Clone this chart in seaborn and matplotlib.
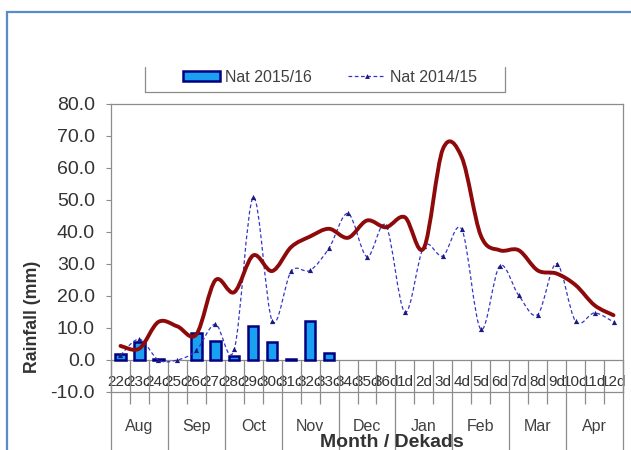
import numpy as np
import pandas as pd
import seaborn as sns
import matplotlib.pyplot as plt
from matplotlib.path import Path
from matplotlib.patches import PathPatch, Patch, Rectangle
from matplotlib.lines import Line2D

# datos
dekads = ["22d", "23d", "24d", "25d", "26d", "27d", "28d", "29d", "30d",
          "31d", "32d", "33d", "34d", "35d", "36d", "1d", "2d", "3d",
          "4d", "5d", "6d", "7d", "8d", "9d", "10d", "11d", "12d"]
months = ["Aug", "Sep", "Oct", "Nov", "Dec", "Jan", "Feb", "Mar", "Apr"]

bar_dekads = ["22d", "23d", "24d", "25d", "26d", "27d", "28d", "29d", "30d",
              "31d", "32d", "33d"]
nat_2015_16 = [2.0, 5.6, 0.4, np.nan, 8.5, 6.0, 1.3, 10.6, 5.6, 0.3, 12.2, 2.3]

nat_2014_15 = [1.5, 6.5, 0.0, 0.0, 3.0, 11.2, 3.3, 50.8, 12.2, 27.7, 28.0, 35.0,
               45.8, 32.3, 42.0, 14.9, 35.5, 32.5, 40.8, 9.6, 29.4, 20.2, 14.2,
               30.1, 12.1, 14.7, 11.9]

nat_ltm = [4.4, 3.6, 11.9, 10.5, 8.0, 24.9, 21.2, 32.7, 27.8, 35.3, 38.6, 41.0,
           38.2, 43.6, 41.5, 44.6, 35.0, 65.9, 63.3, 38.9, 34.3, 34.3, 28.0,
           27.0, 23.4, 17.1, 14.0]

bar_face = "#1AA0F0"
bar_edge = "#000080"
dash_col = "#3535C8"
red_col = "#8E0A0A"
axis_col = "#8C8C8C"
text_col = "#333333"

sns.set_theme(style="white")
plt.rcParams["font.family"] = ["Liberation Sans", "DejaVu Sans"]


def smooth_path(xs, ys):
    # curva bezier tipo Excel (catmull-rom) sobre los puntos
    pts = np.column_stack([xs, ys]).astype(float)
    n = len(pts)
    verts = [pts[0]]
    codes = [Path.MOVETO]
    for i in range(n - 1):
        p0 = pts[max(i - 1, 0)]
        p1 = pts[i]
        p2 = pts[i + 1]
        p3 = pts[min(i + 2, n - 1)]
        verts += [p1 + (p2 - p0) / 6, p2 - (p3 - p1) / 6, p2]
        codes += [Path.CURVE4] * 3
    return Path(verts, codes)


fig = plt.figure(figsize=(6.31, 4.5), dpi=100)
ax = fig.add_axes([111 / 631, 1 - 392 / 450, 512 / 631, 288 / 450])

df_bar = pd.DataFrame({"dekad": bar_dekads, "rain": nat_2015_16}).dropna()
sns.barplot(data=df_bar, x="dekad", y="rain", order=dekads, color=bar_face,
            edgecolor=bar_edge, linewidth=1.8, width=0.55, saturation=1,
            errorbar=None, ax=ax, zorder=2)

xs = np.arange(len(dekads))
ax.add_patch(PathPatch(smooth_path(xs, nat_2014_15), facecolor="none",
                       edgecolor=dash_col, lw=0.9, linestyle=(0, (3, 2)),
                       zorder=3))
sns.scatterplot(x=xs, y=nat_2014_15, marker="^", s=14, color="#1A1A80",
                linewidth=0, ax=ax, zorder=3.5, legend=False)
ax.add_patch(PathPatch(smooth_path(xs, nat_ltm), facecolor="none",
                       edgecolor=red_col, lw=2.8, capstyle="round",
                       joinstyle="round", zorder=4))

ax.set_xlim(-0.5, len(dekads) - 0.5)
ax.set_ylim(-10, 80)
ax.set_yticks(np.arange(-10, 81, 10))
ax.set_yticklabels([f"{v:.1f}" for v in np.arange(-10, 81, 10)])
ax.tick_params(axis="y", direction="out", length=3.6, width=0.8,
               color=axis_col, labelsize=14, labelcolor=text_col, pad=8, left=True)
ax.tick_params(axis="x", length=0, pad=-12.5, labelsize=11, labelcolor=text_col)
ax.set_xlabel("")
ax.set_ylabel("Rainfall (mm)", fontsize=12.8, fontweight="bold", color=text_col)
ax.yaxis.set_label_coords(-0.137, 0.262)

for s in ax.spines.values():
    s.set_color(axis_col)
    s.set_linewidth(0.9)
ax.axhline(0, color=axis_col, lw=0.9, zorder=1)

# separadores del eje de categorias en dos niveles
inner = [i + 0.5 for i in range(len(dekads) - 1) if (i + 1) % 3 != 0]
ax.vlines(inner, -13.7, 0, color=axis_col, lw=0.9, clip_on=False)
seps = [i - 0.5 for i in range(0, len(dekads) + 1, 3)]
ax.vlines(seps, -28.5, 0, color=axis_col, lw=0.9, clip_on=False)

for m, name in enumerate(months):
    ax.text(3 * m + 1, -0.135, name, transform=ax.get_xaxis_transform(),
            ha="center", va="baseline", fontsize=11.5, color="#404040")

fig.text(0.621, 0.0067, "Month / Dekads", ha="center", va="baseline",
         fontsize=14, fontweight="bold", color=text_col)

# leyenda (parte superior recortada como en el original)
handles = [Patch(facecolor=bar_face, edgecolor=bar_edge, lw=1.8),
           Line2D([], [], color=dash_col, lw=0.9, linestyle=(0, (3, 2)),
                  marker="^", markersize=3.5, markerfacecolor="#1A1A80",
                  markeredgewidth=0)]
fig.legend(handles, ["Nat 2015/16", "Nat 2014/15"], ncol=2, loc="center left",
           bbox_to_anchor=(183 / 631, 1 - 77 / 450), frameon=False,
           fontsize=11.5, handlelength=2.3, handleheight=0.55,
           handletextpad=0.3, columnspacing=2.3, borderpad=0,
           borderaxespad=0, labelcolor="#404040")
lx0, lx1, ly0, ly1 = 145 / 631, 505 / 631, 1 - 92 / 450, 1 - 67 / 450
for seg in [([lx0, lx0], [ly1, ly0]), ([lx0, lx1], [ly0, ly0]),
            ([lx1, lx1], [ly0, ly1])]:
    fig.add_artist(Line2D(seg[0], seg[1], color=axis_col, lw=0.9,
                          transform=fig.transFigure))

# marco azul del area del grafico
fig.add_artist(Rectangle((7 / 631, -0.2), 1.2, 1.2 - 12 / 450 + 0.0,
                         transform=fig.transFigure, fill=False,
                         edgecolor="#5B8ACB", lw=1.6))

fig.savefig("out.png", dpi=100)
